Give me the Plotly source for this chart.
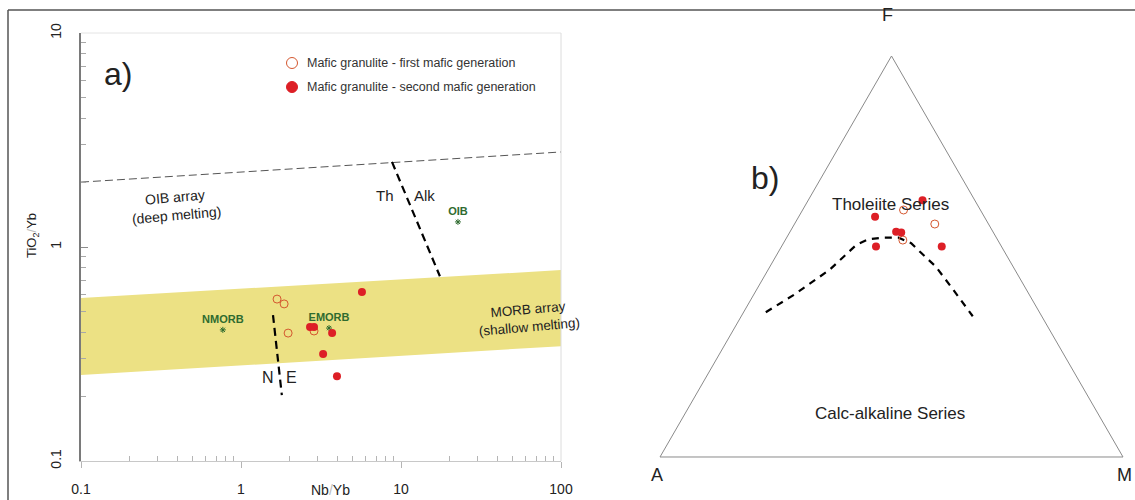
import plotly.graph_objects as go

W, H = 1135, 500
FONT = "Liberation Sans, Arial, sans-serif"

# ---------------- panel a) Nb/Yb vs TiO2/Yb ----------------
gen1_nb_yb = [1.68, 1.86, 1.97, 2.86]
gen1_ti_yb = [0.571, 0.542, 0.396, 0.405]
gen2_nb_yb = [5.70, 2.70, 2.86, 3.71, 3.26, 3.98]
gen2_ti_yb = [0.616, 0.423, 0.423, 0.396, 0.316, 0.249]

ref_names = ["NMORB", "EMORB", "OIB"]
ref_nb_yb = [0.77, 3.55, 22.7]
ref_ti_yb = [0.41, 0.418, 1.31]

# field boundaries
oib_upper_nb = [0.1, 100]
oib_upper_ti = [2.01, 2.78]
morb_band_nb = [0.1, 100, 100, 0.1, 0.1]
morb_band_ti = [0.578, 0.78, 0.344, 0.252, 0.578]
th_alk_nb = [8.78, 17.5]
th_alk_ti = [2.5, 0.73]
n_e_nb = [1.585, 1.80]
n_e_ti = [0.481, 0.203]

x_ticks = [0.1, 1, 10, 100]
y_ticks = [0.1, 1, 10]

# ---------------- panel b) AFM ternary ----------------
gen1_F = [0.616, 0.581, 0.541]
gen1_A = [0.166, 0.116, 0.205]
gen1_M = [0.218, 0.303, 0.254]
gen2_F = [0.640, 0.599, 0.562, 0.5595, 0.525, 0.525]
gen2_A = [0.113, 0.236, 0.209, 0.199, 0.271, 0.129]
gen2_M = [0.247, 0.165, 0.229, 0.241, 0.204, 0.346]

div_F = [0.361, 0.405, 0.467, 0.529, 0.543, 0.547, 0.547, 0.533, 0.508, 0.475, 0.417, 0.351]
div_A = [0.591, 0.5075, 0.400, 0.3115, 0.278, 0.245, 0.211, 0.191, 0.181, 0.167, 0.158, 0.149]
div_M = [0.048, 0.0875, 0.133, 0.1595, 0.179, 0.208, 0.242, 0.276, 0.311, 0.358, 0.425, 0.500]

RED = "#dd1f26"
OPEN_EDGE = "#d4572f"
GREEN = "#2f6b2f"


def px(x, y):
    """Pixel position on the figure -> paper coordinates."""
    return x / W, 1 - y / H


fig = go.Figure()

# MORB array band
fig.add_trace(go.Scatter(x=morb_band_nb, y=morb_band_ti, mode="lines", fill="toself",
                         fillcolor="#ece184", line=dict(width=0), hoverinfo="skip"))
# OIB array upper limit
fig.add_trace(go.Scatter(x=oib_upper_nb, y=oib_upper_ti, mode="lines",
                         line=dict(color="#555555", width=1, dash="8px,4px")))
# Th / Alk divide
fig.add_trace(go.Scatter(x=th_alk_nb, y=th_alk_ti, mode="lines",
                         line=dict(color="black", width=2.2, dash="8px,5px")))
# N / E divide
fig.add_trace(go.Scatter(x=n_e_nb, y=n_e_ti, mode="lines",
                         line=dict(color="black", width=2.2, dash="8px,5px")))
# reference compositions
fig.add_trace(go.Scatter(x=ref_nb_yb, y=ref_ti_yb, mode="markers+text", text=ref_names,
                         textposition="top center",
                         textfont=dict(family=FONT, size=11, color=GREEN, weight="bold"),
                         marker=dict(symbol="asterisk", size=5, color=GREEN,
                                     line=dict(color=GREEN, width=1))))
# samples
fig.add_trace(go.Scatter(x=gen1_nb_yb, y=gen1_ti_yb, mode="markers",
                         name="Mafic granulite - first mafic generation",
                         marker=dict(symbol="circle-open", size=8, color=OPEN_EDGE,
                                     line=dict(width=1))))
fig.add_trace(go.Scatter(x=gen2_nb_yb, y=gen2_ti_yb, mode="markers",
                         name="Mafic granulite - second mafic generation",
                         marker=dict(symbol="circle", size=8, color=RED)))

# ternary traces
fig.add_trace(go.Scatterternary(a=div_F, b=div_A, c=div_M, mode="lines",
                                line=dict(color="black", width=2.2, dash="7px,6px")))
fig.add_trace(go.Scatterternary(a=gen1_F, b=gen1_A, c=gen1_M, mode="markers",
                                marker=dict(symbol="circle-open", size=8, color=OPEN_EDGE,
                                            line=dict(width=1))))
fig.add_trace(go.Scatterternary(a=gen2_F, b=gen2_A, c=gen2_M, mode="markers",
                                marker=dict(symbol="circle", size=8, color=RED)))

minor_x = [m * 10 ** e for e in (-1, 0, 1) for m in range(2, 10)]
minor_y = [m * 10 ** e for e in (-1, 0) for m in range(2, 10)]

tern_axis = dict(showticklabels=False, ticks="", showgrid=False, linecolor="#8a8a8a",
                 linewidth=1, title=dict(text=""))

x0p, _ = px(81, 0)
x1p, _ = px(561, 0)
_, y0p = px(0, 461)
_, y1p = px(0, 33)
tx0, _ = px(660, 0)
tx1, _ = px(1123, 0)
_, ty0 = px(0, 458)
_, ty1 = px(0, 55)

fig.update_layout(
    width=W, height=H, margin=dict(l=0, r=0, t=0, b=0, autoexpand=False),
    paper_bgcolor="white", plot_bgcolor="white", showlegend=False,
    font=dict(family=FONT, color="#333"),
    xaxis=dict(type="log", range=[-1, 2], domain=[x0p, x1p], automargin=False,
               tickvals=x_ticks, ticktext=["0.1", "1", "10", "100"],
               ticks="outside", ticklen=6, tickcolor="#b5b5b5", tickwidth=1,
               showline=True, linecolor="#c8c8c8", linewidth=1,
               showgrid=False, zeroline=False, ticklabelstandoff=9,
               tickfont=dict(size=14, color="#222"),
               minor=dict(tickvals=minor_x, ticks="inside", ticklen=5,
                          tickcolor="#b5b5b5", showgrid=False)),
    yaxis=dict(type="log", range=[-1, 1], domain=[y0p, y1p], automargin=False,
               tickvals=y_ticks, ticktext=["0.1", "1", "10"], tickangle=-90,
               ticks="inside", ticklen=7, tickcolor="#8c8c8c",
               showline=True, linecolor="#7a7a7a", linewidth=1.5,
               showgrid=False, zeroline=False, ticklabelstandoff=13,
               tickfont=dict(size=14, color="#222"),
               minor=dict(tickvals=minor_y, ticks="inside", ticklen=5,
                          tickcolor="#a8a8a8", showgrid=False)),
    ternary=dict(domain=dict(x=[tx0, tx1], y=[ty0, ty1]),
                 bgcolor="white", sum=1,
                 aaxis=tern_axis, baxis=tern_axis, caxis=tern_axis),
)

annos = [
    ("a)", 118, 74, 32, 0),
    ("b)", 765, 178, 32, 0),
    ("OIB array<br>(deep melting)", 176, 206, 14, -5),
    ("MORB array<br>(shallow melting)", 528, 318, 13.5, -5),
    ("Th", 385, 195, 15, 0),
    ("Alk", 424, 195, 15, 0),
    ("N", 268, 377, 16, 0),
    ("E", 291, 377, 16, 0),
    ("Tholeiite Series", 890, 205, 17, 0),
    ("Calc-alkaline Series", 890, 413, 17, 0),
    ("F", 887, 15, 18, 0),
    ("A", 657, 475, 18, 0),
    ("M", 1124, 475, 18, 0),
    ("TiO<sub>2</sub><span style='color:#bbbbbb'>/</span>Yb", 32, 236, 13, -90),
    ("Nb<span style='color:#bbbbbb'>/</span>Yb", 330, 490, 14, 0),
]
for text, x, y, size, ang in annos:
    xx, yy = px(x, y)
    fig.add_annotation(text=text, x=xx, y=yy, xref="paper", yref="paper",
                       showarrow=False, textangle=ang, xanchor="center", yanchor="middle",
                       font=dict(family=FONT, size=size, color="#222"))

# legend entries
legend_rows = [
    ("Mafic granulite - first mafic generation", 63, "open"),
    ("Mafic granulite - second mafic generation", 87, "filled"),
]
for label, y, kind in legend_rows:
    xx, yy = px(292, y)
    fig.add_shape(type="circle", xref="paper", yref="paper", xsizemode="pixel",
                  ysizemode="pixel", xanchor=xx, yanchor=yy, x0=-5.5, x1=5.5, y0=-5.5, y1=5.5,
                  line=dict(color=OPEN_EDGE if kind == "open" else RED, width=1),
                  fillcolor="white" if kind == "open" else RED)
    tx, ty = px(305, y)
    fig.add_annotation(text=label, x=tx, y=ty, xref="paper", yref="paper", showarrow=False,
                       xanchor="left", yanchor="middle",
                       font=dict(family=FONT, size=12.5, color="#333"))

# light frame on the top and right of panel a)
fig.add_shape(type="line", xref="x domain", yref="y domain", x0=0, x1=1, y0=1, y1=1,
              line=dict(color="#e4e4e4", width=1))
fig.add_shape(type="line", xref="x domain", yref="y domain", x0=1, x1=1, y0=0, y1=1,
              line=dict(color="#dcdcdc", width=1))
# outer figure frame
fx, fy = px(8, 10)
fig.add_shape(type="line", xref="paper", yref="paper", x0=fx, x1=1, y0=fy, y1=fy,
              line=dict(color="#555", width=1.5))
fig.add_shape(type="line", xref="paper", yref="paper", x0=fx, x1=fx, y0=0, y1=fy,
              line=dict(color="#555", width=1.5))

fig.write_html("out.html")
